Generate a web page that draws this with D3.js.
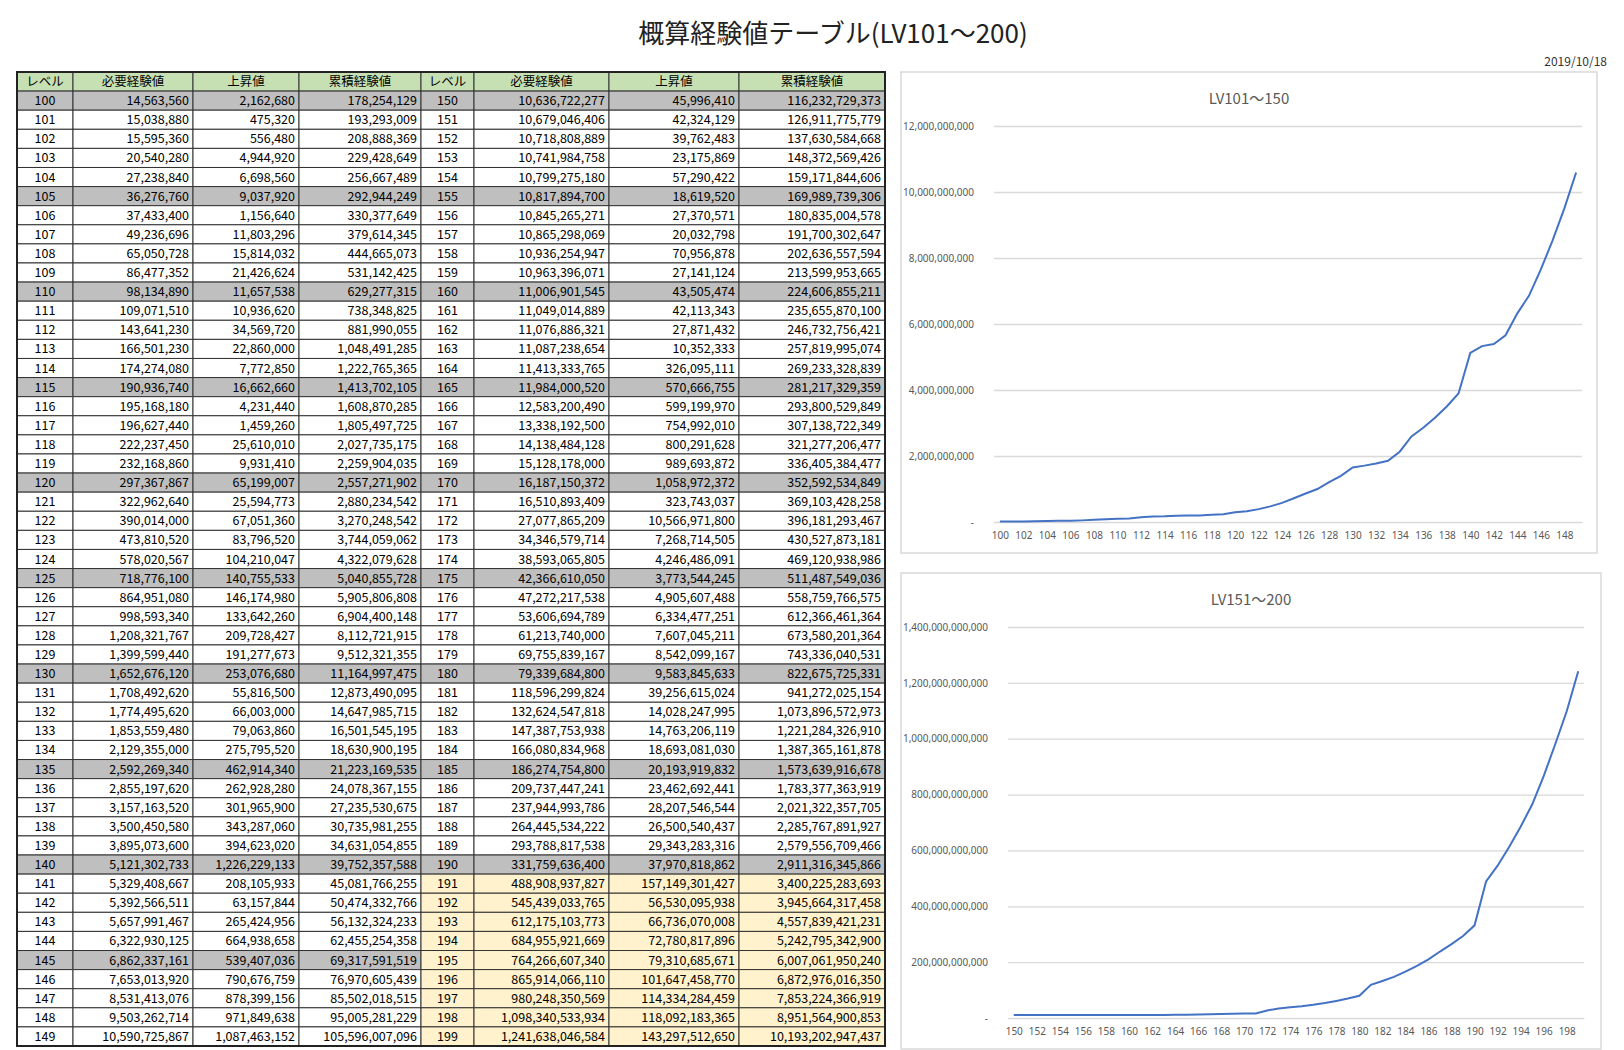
<!DOCTYPE html>
<html><head><meta charset="utf-8">
<script src="https://cdn.jsdelivr.net/npm/d3@7"></script>
<style>body{margin:0;background:#fff}svg{font-family:"Noto Sans CJK JP","Noto Sans",sans-serif}</style>
</head><body><svg id="c" width="1624" height="1050"></svg>
<script>
const headers = ['レベル', '必要経験値', '上昇値', '累積経験値'];
const levels = d3.range(100, 200);
const need = [14563560,15038880,15595360,20540280,27238840,36276760,37433400,49236696,65050728,86477352,
98134890,109071510,143641230,166501230,174274080,190936740,195168180,196627440,222237450,232168860,
297367867,322962640,390014000,473810520,578020567,718776100,864951080,998593340,1208321767,1399599440,
1652676120,1708492620,1774495620,1853559480,2129355000,2592269340,2855197620,3157163520,3500450580,3895073600,
5121302733,5329408667,5392566511,5657991467,6322930125,6862337161,7653013920,8531413076,9503262714,10590725867,
10636722277,10679046406,10718808889,10741984758,10799275180,10817894700,10845265271,10865298069,10936254947,10963396071,
11006901545,11049014889,11076886321,11087238654,11413333765,11984000520,12583200490,13338192500,14138484128,15128178000,
16187150372,16510893409,27077865209,34346579714,38593065805,42366610050,47272217538,53606694789,61213740000,69755839167,
79339684800,118596299824,132624547818,147387753938,166080834968,186274754800,209737447241,237944993786,264445534222,293788817538,
331759636400,488908937827,545439033765,612175103773,684955921669,764266607340,865914066110,980248350569,1098340533934,1241638046584];
const rise = [2162680,475320,556480,4944920,6698560,9037920,1156640,11803296,15814032,21426624,
11657538,10936620,34569720,22860000,7772850,16662660,4231440,1459260,25610010,9931410,
65199007,25594773,67051360,83796520,104210047,140755533,146174980,133642260,209728427,191277673,
253076680,55816500,66003000,79063860,275795520,462914340,262928280,301965900,343287060,394623020,
1226229133,208105933,63157844,265424956,664938658,539407036,790676759,878399156,971849638,1087463152,
45996410,42324129,39762483,23175869,57290422,18619520,27370571,20032798,70956878,27141124,
43505474,42113343,27871432,10352333,326095111,570666755,599199970,754992010,800291628,989693872,
1058972372,323743037,10566971800,7268714505,4246486091,3773544245,4905607488,6334477251,7607045211,8542099167,
9583845633,39256615024,14028247995,14763206119,18693081030,20193919832,23462692441,28207546544,26500540437,29343283316,
37970818862,157149301427,56530095938,66736070008,72780817896,79310685671,101647458770,114334284459,118092183365,143297512650];
const total = [178254129,193293009,208888369,229428649,256667489,292944249,330377649,379614345,444665073,531142425,
629277315,738348825,881990055,1048491285,1222765365,1413702105,1608870285,1805497725,2027735175,2259904035,
2557271902,2880234542,3270248542,3744059062,4322079628,5040855728,5905806808,6904400148,8112721915,9512321355,
11164997475,12873490095,14647985715,16501545195,18630900195,21223169535,24078367155,27235530675,30735981255,34631054855,
39752357588,45081766255,50474332766,56132324233,62455254358,69317591519,76970605439,85502018515,95005281229,105596007096,
116232729373,126911775779,137630584668,148372569426,159171844606,169989739306,180835004578,191700302647,202636557594,213599953665,
224606855211,235655870100,246732756421,257819995074,269233328839,281217329359,293800529849,307138722349,321277206477,336405384477,
352592534849,369103428258,396181293467,430527873181,469120938986,511487549036,558759766575,612366461364,673580201364,743336040531,
822675725331,941272025154,1073896572973,1221284326910,1387365161878,1573639916678,1783377363919,2021322357705,2285767891927,2579556709466,
2911316345866,3400225283693,3945664317458,4557839421231,5242795342900,6007061950240,6872976016350,7853224366919,8951564900853,10193202947437];
const yTicksTop = d3.range(0, 12e9 + 1, 2e9);
const yTicksBot = d3.range(0, 1.4e12 + 1, 2e11);

const svg = d3.select('#c');
const fmt = d3.format(',.0f');

svg.append('text').attr('x', 833).attr('y', 43).attr('text-anchor', 'middle')
  .attr('font-size', 26).attr('fill', '#222').text('概算経験値テーブル(LV101～200)');
svg.append('text').attr('x', 1607).attr('y', 66).attr('text-anchor', 'end')
  .attr('font-size', 12).attr('fill', '#333').text('2019/10/18');

// table
const colX = [17, 73, 193, 299, 421, 474, 609, 739, 885];
const rowY = d3.scaleBand().domain(d3.range(51)).range([72, 1046]);
const rh = rowY.bandwidth();
const tbl = svg.append('g').attr('font-size', 12.5).attr('fill', '#000');

function cellFill(row, half) {
  if (row === 0) return '#c6e0b4';
  const lv = 100 + half * 50 + row - 1;
  if (lv > 190) return '#fff2cc';
  if (lv % 5 === 0) return '#bfbfbf';
  return '#fff';
}
for (let half = 0; half < 2; half++) {
  for (let r = 0; r < 51; r++) {
    for (let c = 0; c < 4; c++) {
      const x0 = colX[half * 4 + c], x1 = colX[half * 4 + c + 1];
      tbl.append('rect').attr('x', x0).attr('y', rowY(r)).attr('width', x1 - x0).attr('height', rh)
        .attr('fill', cellFill(r, half)).attr('stroke', '#333').attr('stroke-width', 1);
      let t, anchor = 'end', tx = x1 - 4;
      if (r === 0) { t = headers[c]; anchor = 'middle'; tx = (x0 + x1) / 2; }
      else {
        const i = half * 50 + r - 1;
        if (c === 0) { t = levels[i]; anchor = 'middle'; tx = (x0 + x1) / 2; }
        else t = fmt([null, need, rise, total][c][i]);
      }
      tbl.append('text').attr('x', tx).attr('y', rowY(r) + rh / 2 + 4.5)
        .attr('text-anchor', anchor).text(t);
    }
  }
}
tbl.append('rect').attr('x', 17).attr('y', 72).attr('width', 868).attr('height', 974)
  .attr('fill', 'none').attr('stroke', '#222').attr('stroke-width', 2);

// charts
function chart(box, plot, lvls, vals, ticks, title) {
  const g = svg.append('g');
  g.append('rect').attr('x', box[0]).attr('y', box[1]).attr('width', box[2] - box[0]).attr('height', box[3] - box[1])
    .attr('fill', '#fff').attr('stroke', '#d9d9d9').attr('stroke-width', 1.5);
  g.append('text').attr('x', (box[0] + box[2]) / 2).attr('y', box[1] + 32).attr('text-anchor', 'middle')
    .attr('font-size', 15).attr('fill', '#595959').text(title);
  const x = d3.scalePoint().domain(lvls).range([plot[0], plot[2]]).padding(0.5);
  const y = d3.scaleLinear().domain([0, ticks[ticks.length - 1]]).range([plot[3], plot[1]]);
  const ya = g.append('g').attr('transform', `translate(${plot[0]},0)`)
    .call(d3.axisLeft(y).tickValues(ticks).tickSize(-(plot[2] - plot[0])).tickPadding(20)
      .tickFormat(d => d === 0 ? '-' : fmt(d)));
  ya.select('.domain').remove();
  ya.selectAll('line').attr('stroke', '#d9d9d9').attr('stroke-width', 1.3);
  ya.selectAll('text').attr('fill', '#595959').attr('font-size', 10).attr('font-family', 'Noto Sans');
  const xa = g.append('g').attr('transform', `translate(0,${plot[3]})`)
    .call(d3.axisBottom(x).tickValues(lvls.filter(d => d % 2 === 0)).tickSize(0).tickPadding(10));
  xa.select('.domain').attr('stroke', '#d9d9d9');
  xa.selectAll('text').attr('fill', '#595959').attr('font-size', 10).attr('font-family', 'Noto Sans');
  g.append('path').datum(lvls.map((l, i) => [l, vals[i]]))
    .attr('d', d3.line().x(d => x(d[0])).y(d => y(d[1])))
    .attr('fill', 'none').attr('stroke', '#4472c4').attr('stroke-width', 2);
}
chart([901, 72, 1597, 553], [994, 126, 1582, 522], levels.slice(0, 50), need.slice(0, 50), yTicksTop, 'LV101～150');
chart([901, 573, 1601, 1049], [1008, 627, 1584, 1018], levels.slice(50), need.slice(50), yTicksBot, 'LV151～200');
</script></body></html>
